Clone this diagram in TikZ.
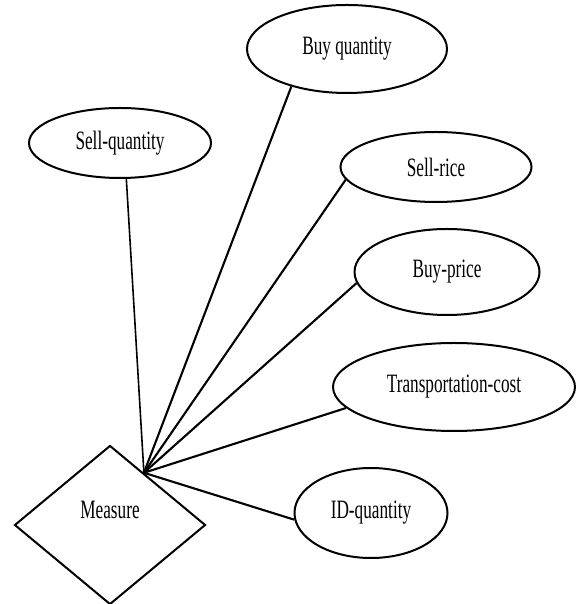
\documentclass[tikz,border=0pt]{standalone}
\usepackage{fontspec}
\newfontfamily\erfont[FakeStretch=0.65]{Liberation Serif}
\usetikzlibrary{shapes.geometric}
\tikzset{
  % Testo delle etichette
  label font/.style={font=\erfont\fontsize{26.5}{31}\selectfont},
  % Attributi (ellissi)
  attr/.style={ellipse,draw,line width=2pt,inner sep=0pt,label font},
  % Relazione (rombo)
  rel/.style={diamond,draw,line width=2pt,inner sep=0pt,label font,text depth=31pt},
  % Collegamenti
  connect/.style={line width=2.1pt},
  connect thin/.style={line width=1.6pt}
}

\begin{document}
\begin{tikzpicture}[x=1pt,y=1pt]
    \useasboundingbox (0,0) rectangle (579,604);
    \node[rel, minimum width=191, minimum height=159] (measure) at (110,79) {Measure};
    \node[attr, minimum width=200, minimum height=88] (buyq) at (347,555) {Buy quantity};
    \node[attr, minimum width=182, minimum height=70] (sellq) at (120,461) {Sell-quantity};
    \node[attr, minimum width=191, minimum height=70] (sellr) at (436,437) {Sell-rice};
    \node[attr, minimum width=185, minimum height=86] (buyp) at (447,332) {Buy-price};
    \node[attr, minimum width=242, minimum height=88] (transp) at (454,217) {Transportation-cost};
    \node[attr, minimum width=153, minimum height=90] (idq) at (371,91) {ID-quantity};
    \draw[connect thin] (measure.57) -- (sellq.280);
    \draw[connect] (measure.57) -- (buyq.214);
    \draw[connect] (measure.57) -- (sellr.188);
    \draw[connect] (measure.57) -- (buyp.187);
    \draw[connect] (measure.57) -- (transp.191);
    \draw[connect] (measure.57) -- (idq.185);
  \end{tikzpicture}
\end{document}
